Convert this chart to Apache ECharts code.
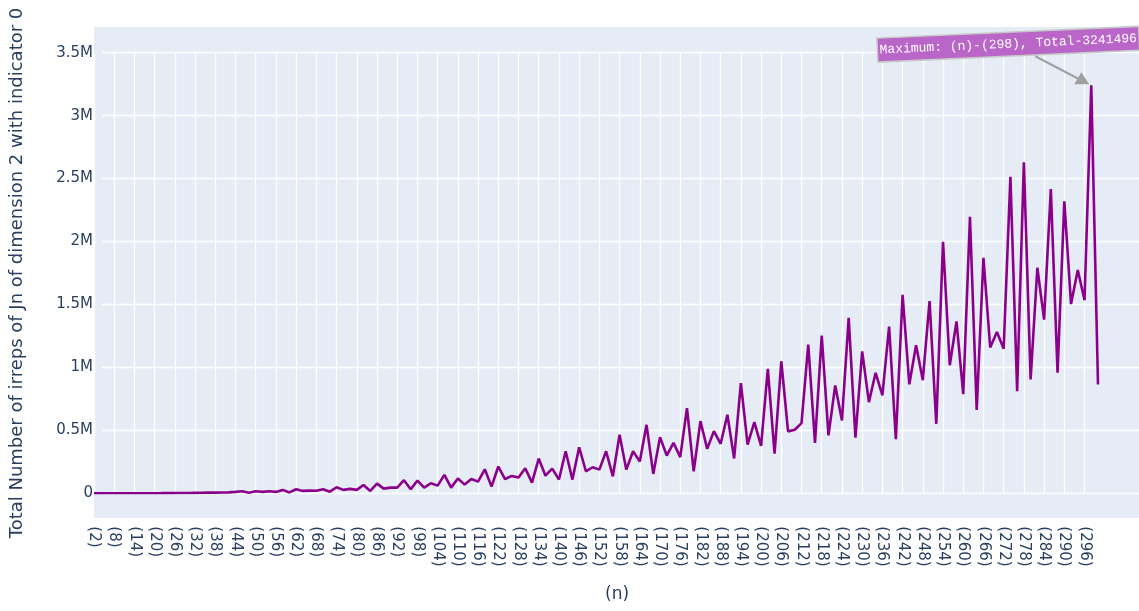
<!DOCTYPE html>
<html>
<head>
<meta charset="utf-8">
<script src="https://cdn.jsdelivr.net/npm/echarts@6/dist/echarts.min.js"></script>
<style>
    html, body { margin: 0; padding: 0; background: #ffffff; }
    #main { width: 1139px; height: 611px; }
</style>
</head>
<body>
<div id="main"></div>
<script>
// n = 2, 4, ..., 300
var nValues = [];
for (var k = 2; k <= 300; k += 2) {
    nValues.push(k);
}
var categories = nValues.map(function (n) { return '(' + n + ')'; });

// total number of irreps
var totals = [
    0, 0, 0, 0, 0, 0, 100, 200, 500, 800,
    1000, 1500, 1800, 2500, 2800, 3500, 4000, 5000, 5500, 6500,
    7000, 11000, 16000, 5000, 16000, 11000, 16000, 11000, 27000, 7000,
    32000, 19000, 21000, 20000, 32000, 13000, 48000, 27000, 35000, 27000,
    66000, 19000, 77000, 37000, 45000, 45000, 104000, 32000, 101000, 45000,
    80000, 61000, 146000, 45000, 117000, 69000, 114000, 93000, 191000, 53000,
    213000, 112000, 138000, 125000, 199000, 85000, 276000, 140000, 196000, 110000,
    334000, 109000, 366000, 175000, 207000, 188000, 334000, 135000, 465000, 188000,
    334000, 252000, 544000, 154000, 446000, 300000, 401000, 287000, 677000, 175000,
    573000, 353000, 494000, 393000, 624000, 277000, 875000, 386000, 566000, 376000,
    989000, 315000, 1049000, 492000, 505000, 558000, 1181000, 400000, 1253000, 460000,
    856000, 579000, 1393000, 442000, 1128000, 724000, 957000, 777000, 1324000, 429000,
    1576000, 866000, 1176000, 899000, 1527000, 551000, 1998000, 1017000, 1365000, 787000,
    2196000, 663000, 1871000, 1158000, 1282000, 1149000, 2514000, 810000, 2629000, 905000,
    1792000, 1379000, 2417000, 958000, 2319000, 1503000, 1774000, 1533000, 3241496, 864000
];

var yTickLabels = ['0', '0.5M', '1M', '1.5M', '2M', '2.5M', '3M', '3.5M'];

var textColor = '#2a3f5f';
var lineColor = '#8b008b';

var myChart = echarts.init(document.getElementById('main'), null, { renderer: 'canvas' });

var option = {
    animation: false,
    backgroundColor: '#ffffff',
    grid: [
        // data grid: last category sits at x = 1098
        { left: 94, right: 41, top: 52.7, bottom: 117.7, containLabel: false },
        // full-width grid, only for the horizontal grid lines and y labels
        { left: 94, right: 0, top: 52.7, bottom: 117.7, containLabel: false }
    ],
    xAxis: [
        {
            type: 'category',
            gridIndex: 0,
            data: categories,
            boundaryGap: false,
            axisLine: { show: false },
            axisTick: { show: false },
            axisLabel: {
                interval: 2,
                rotate: -90,
                margin: 33,
                color: textColor,
                fontFamily: 'DejaVu Sans',
                fontSize: 15
            },
            splitLine: {
                show: true,
                interval: 2,
                lineStyle: { color: '#ffffff', width: 1.3 }
            }
        },
        {
            type: 'value',
            gridIndex: 1,
            min: 0,
            max: 1,
            show: false
        }
    ],
    yAxis: [
        {
            type: 'value',
            gridIndex: 0,
            min: 0,
            max: 3500000,
            interval: 500000,
            show: false
        },
        {
            type: 'value',
            gridIndex: 1,
            min: 0,
            max: 3500000,
            interval: 500000,
            name: 'Total Number of irreps of Jn of dimension 2 with indicator 0',
            nameLocation: 'middle',
            nameGap: 76,
            nameTextStyle: {
                color: textColor,
                fontFamily: 'DejaVu Sans',
                fontSize: 18
            },
            axisLine: { show: false },
            axisTick: { show: false },
            axisLabel: {
                margin: 9,
                color: textColor,
                fontFamily: 'DejaVu Sans',
                fontSize: 15,
                formatter: function (value) {
                    return yTickLabels[Math.round(value / 500000)];
                }
            },
            splitLine: {
                lineStyle: { color: '#ffffff', width: 1.3 }
            }
        }
    ],
    series: [
        {
            name: 'Total',
            type: 'line',
            xAxisIndex: 0,
            yAxisIndex: 0,
            data: totals,
            symbol: 'none',
            lineStyle: { color: lineColor, width: 2.6 },
            z: 3
        }
    ]
};
myChart.setOption(option);

// annotation on the maximum point
var maxIdx = 0;
for (var i = 1; i < totals.length; i++) {
    if (totals[i] > totals[maxIdx]) maxIdx = i;
}
var p = myChart.convertToPixel({ seriesIndex: 0 }, [maxIdx, totals[maxIdx]]);
var labelText = 'Maximum: (n)-(' + nValues[maxIdx] + '), Total-' + totals[maxIdx];

myChart.setOption({
    graphic: [
        {
            // plot background
            type: 'rect',
            z: -10,
            silent: true,
            shape: { x: 94, y: 27, width: 1045, height: 491 },
            style: { fill: '#e5ecf6' }
        },
        {
            type: 'text',
            left: 605,
            top: 586,
            style: {
                text: '(n)',
                fill: textColor,
                font: '17px "DejaVu Sans"'
            }
        },
        {
            type: 'line',
            z: 20,
            shape: { x1: p[0] - 56, y1: p[1] - 29, x2: p[0] - 10, y2: p[1] - 5 },
            style: { stroke: '#a0a0a0', lineWidth: 2 }
        },
        {
            type: 'polygon',
            z: 20,
            shape: {
                points: [
                    [p[0] - 2, p[1] - 1],
                    [p[0] - 17, p[1] - 1],
                    [p[0] - 10, p[1] - 13]
                ]
            },
            style: { fill: '#a0a0a0' }
        },
        {
            type: 'group',
            z: 21,
            x: p[0] - 83,
            y: p[1] - 41,
            rotation: 0.045,
            children: [
                {
                    type: 'rect',
                    shape: { x: -131, y: -12, width: 262, height: 24 },
                    style: { fill: '#b966c8', stroke: '#c8c8c8', lineWidth: 1.5 }
                },
                {
                    type: 'text',
                    x: 0,
                    y: 0,
                    style: {
                        text: labelText,
                        fill: '#ffffff',
                        font: '13px "Liberation Mono", monospace',
                        align: 'center',
                        verticalAlign: 'middle'
                    }
                }
            ]
        }
    ]
});

window.addEventListener('resize', function () {
    myChart.resize();
});
</script>
</body>
</html>
